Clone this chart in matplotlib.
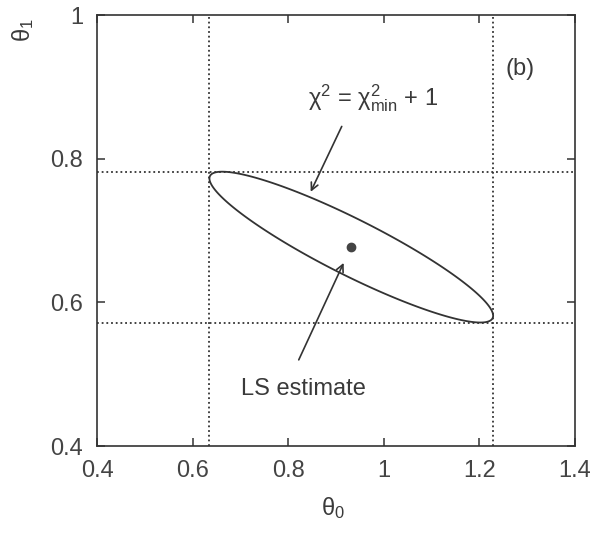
import numpy as np
import matplotlib
matplotlib.use('Agg')
import matplotlib.pyplot as plt

# LS estimate and 1-sigma errors
theta_hat = [0.932, 0.677]   # (theta0, theta1)
sigma     = [0.297, 0.105]
rho       = -0.91
chi2_level = 1.0             # chi^2 = chi^2_min + 1

xticks = [0.4, 0.6, 0.8, 1.0, 1.2, 1.4]
yticks = [0.4, 0.6, 0.8, 1.0]
xticklabels = ['0.4', '0.6', '0.8', '1', '1.2', '1.4']
yticklabels = ['0.4', '0.6', '0.8', '1']

ink = '#333333'
plt.rcParams['font.family'] = ['Liberation Sans', 'DejaVu Sans']
plt.rcParams['mathtext.fontset'] = 'custom'
plt.rcParams['mathtext.rm'] = 'Liberation Sans'
plt.rcParams['mathtext.it'] = 'Liberation Sans'
plt.rc('font', size=17)
plt.rc('axes', linewidth=1.2, edgecolor=ink)

fig = plt.figure(figsize=(6, 5.4), dpi=100)
ax = fig.add_axes([0.162, 0.174, 0.796, 0.798])

# chi^2 surface around the minimum (quadratic approximation)
cov = np.array([[sigma[0]**2, rho*sigma[0]*sigma[1]],
                [rho*sigma[0]*sigma[1], sigma[1]**2]])
icov = np.linalg.inv(cov)
g0, g1 = np.meshgrid(np.linspace(0.4, 1.4, 600), np.linspace(0.4, 1.0, 600))
d0, d1 = g0 - theta_hat[0], g1 - theta_hat[1]
dchi2 = icov[0, 0]*d0**2 + 2*icov[0, 1]*d0*d1 + icov[1, 1]*d1**2
ax.contour(g0, g1, dchi2, levels=[chi2_level], colors=ink, linewidths=1.3)

# projected 1-sigma bounds
dots = (0, (1, 1.6))
for v in [theta_hat[0] - sigma[0], theta_hat[0] + sigma[0]]:
    ax.axvline(v, color=ink, lw=1.3, linestyle=dots)
for v in [theta_hat[1] - sigma[1], theta_hat[1] + sigma[1]]:
    ax.axhline(v, color=ink, lw=1.3, linestyle=dots)

ax.plot(theta_hat[0], theta_hat[1], 'o', color='#444444', ms=6)

arr = dict(arrowstyle='->', lw=1.2, color=ink, shrinkA=0, shrinkB=0, mutation_scale=13)
ax.text(0.977, 0.884, r'χ$^\mathregular{2}$ = χ$^\mathregular{2}_\mathregular{min}$ + 1',
        ha='center', va='center', color='#3a3a3a', fontsize=17)
ax.annotate('', xy=(0.847, 0.754), xytext=(0.912, 0.845), arrowprops=arr)
ax.text(0.832, 0.48, 'LS estimate', ha='center', va='center', color='#3a3a3a', fontsize=17)
ax.annotate('', xy=(0.916, 0.655), xytext=(0.822, 0.52), arrowprops=arr)
ax.text(1.285, 0.925, '(b)', ha='center', va='center', color='#3a3a3a', fontsize=17)

ax.set_xlim(0.4, 1.4)
ax.set_ylim(0.4, 1.0)
ax.set_xticks(xticks)
ax.set_xticklabels(xticklabels)
ax.set_yticks(yticks)
ax.set_yticklabels(yticklabels)
ax.tick_params(direction='in', top=True, right=True, length=5.5, width=1.1,
               pad=10, labelcolor='#444444', color=ink)

ax.set_xlabel(r'$\mathregular{θ_0}$', color='#3a3a3a', va='center')
ax.xaxis.set_label_coords(0.494, -0.145)
ax.set_ylabel(r'$\mathregular{θ_1}$', color='#3a3a3a', va='center')
ax.yaxis.set_label_coords(-0.155, 0.965)

plt.savefig('out.png', dpi=100)
